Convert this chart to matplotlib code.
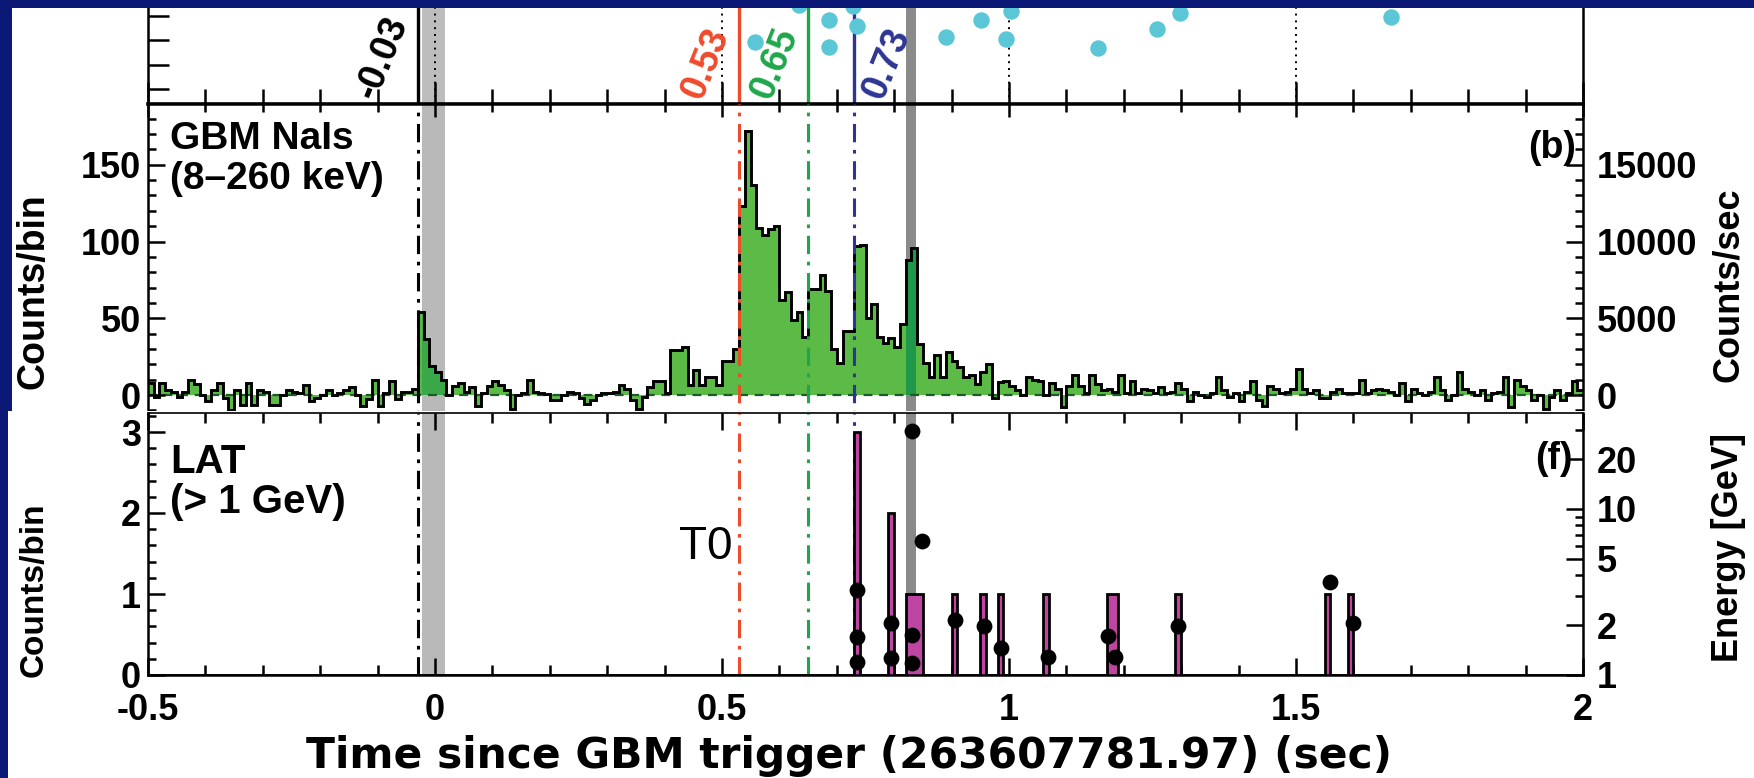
import numpy as np
import matplotlib
matplotlib.use('Agg')
import matplotlib.pyplot as plt
from matplotlib.patches import Rectangle
from matplotlib.ticker import MultipleLocator, FixedLocator, NullFormatter, FuncFormatter

plt.rcParams['font.family'] = ['Liberation Sans', 'DejaVu Sans']
plt.rcParams['font.weight'] = 'bold'

# ------------------------------------------------------------------ data
t_start = -0.5            # first GBM bin edge (s)
bin_width = 0.01          # s
gbm_counts = [
    8, -1.5, 7.5, 3, 2, -1, 2, 10, 7, 0,
    -4, 3, 8, -2, -10, 3, -6.5, 7.5, -6.5, 3,
    2, -6.5, -6.5, 0, 3, 2, 1, 6.5, -4, -2,
    0, 3, 0, 1, 3, 5, 0, -7, -2.5, 10,
    -7, 1, 9, -2.5, 2, 2, 4, 54, 36.5, 19,
    15, 10, 0, 6, 8, 2, 5, -7, 1, 6,
    9, 6.5, 3, -9, 0, 1, 10, 2, 1, 0.5,
    -3, -3, 0, 2, 1, -2, -6, -3, 0, 1.5,
    1.5, 2, 6.5, 4, -3, -9, -1, 5, 9, 9,
    1, 29, 29, 31.5, 6.5, 16, 6.5, 12, 12, 6.5,
    22, 22, 30, 123, 172, 137, 109, 104, 108, 110,
    62, 67, 49, 54, 38, 69, 69, 78, 68, 30,
    21, 42, 42, 97, 98, 50, 59, 38, 34, 37,
    31, 46, 88, 96, 33, 21, 12, 26, 12, 28,
    22, 18, 12, 13, 7, 15, 20, -2, 8.5, 9,
    6, 3, 0, 12, 10, 9, 0, 8, 4, -8,
    6, 13, 6, 1, 13, 7, 3, 4, 2, 13,
    1, 9, 1, 4, 3, 1, 5, 1, 2, 8,
    4, -4, 2, 0, -1, 1, 12, 3, -1, 1,
    -4, 2, 9, -3, -7, 6, 4, 1, 2, 4,
    17, 4, 1, 3, -2, -2, 2, 4, 1, 1,
    1, 10, 1, 3, 4, 3, 2, 0, 8, -4,
    4, 1, 0, 2, 12, 3, -3, 0, 15, 4,
    2, 0, 3, -3, 1, 2, 12, -8, 10, 6,
    3, -3, 0, -9, -1, 3, -3, 1, 9, 3,
]

# LAT (> 1 GeV) histogram: occupied 0.01 s bins (left edge) and counts
lat_bin_left = [0.73, 0.79, 0.82, 0.83, 0.84, 0.90, 0.95, 0.98, 1.06, 1.17, 1.18, 1.29, 1.55, 1.59]
lat_bin_counts = [3, 2, 1, 1, 1, 1, 1, 1, 1, 1, 1, 1, 1, 1]

# individual LAT photons: arrival time (s) and energy (GeV)
photon_time = [0.735, 0.735, 0.735, 0.794, 0.794, 0.831, 0.831, 0.831, 0.848,
               0.906, 0.956, 0.986, 1.068, 1.172, 1.185, 1.294, 1.559, 1.599]
photon_energy = [3.25, 1.69, 1.20, 2.06, 1.27, 29.5, 1.74, 1.18, 6.4,
                 2.14, 1.97, 1.46, 1.28, 1.72, 1.28, 1.97, 3.63, 2.06]

# upper (cropped) panel points
top_time = [0.557, 0.634, 0.687, 0.687, 0.728, 0.736, 0.890, 0.951, 0.994,
            1.003, 1.155, 1.258, 1.298, 1.666]
top_value = [1.93, 3.44, 2.83, 1.73, 3.40, 2.58, 2.13, 2.83, 2.05,
             3.20, 1.69, 2.46, 3.11, 2.95]

# marked times
event_times = [-0.03, 0.53, 0.65, 0.73]
event_labels = ['-0.03', '0.53', '0.65', '0.73']
event_colors = ['black', '#ee4b2b', '#1fa64a', '#2d3594']

band_light = (-0.022, 0.017)
band_dark = (0.821, 0.838)

# ------------------------------------------------------------------ figure
W, H = 1754, 778
fig = plt.figure(figsize=(W / 100, H / 100), dpi=100)
fig.patch.set_facecolor('white')


def rect(x0, y0, x1, y1):
    return [x0 / W, 1 - y1 / H, (x1 - x0) / W, (y1 - y0) / H]


XL, XR = 148, 1583
XLIM = (-0.5, 2.0)
NAVY = '#0b1876'
GREEN = '#5cba46'
MAGENTA = '#bf45a3'
CYAN = '#5bc6d6'
dashdot = (0, (6, 2.5, 1.2, 2.5))
TICK = 26

edges = np.round(t_start + bin_width * np.arange(len(gbm_counts) + 1), 3)
gbm = np.array(gbm_counts, dtype=float)

# ---------------- top (cropped) panel
ax_top = fig.add_axes(rect(XL, 0, XR, 104), zorder=1)
ax_top.set_xlim(*XLIM)
ax_top.set_ylim(-0.6, 3.645)
ax_top.axvspan(*band_light, color='#bdbdbd', lw=0, zorder=0.5)
ax_top.axvspan(*band_dark, color='#8a8a8a', lw=0, zorder=0.5)
for xg in [0, 0.5, 1.0, 1.5]:
    ax_top.axvline(xg, color='black', lw=1.4, ls=(0, (1, 2.5)), zorder=1)
for t, c in zip(event_times, event_colors):
    ax_top.axvline(t, color=c, lw=2.4, zorder=2)
ax_top.scatter(top_time, top_value, s=140, color=CYAN, lw=0, zorder=3)
for t, lab, c in zip(event_times, event_labels, event_colors):
    right = t > 0.7
    ax_top.annotate(lab, xy=(t, 0), xycoords=('data', 'axes fraction'),
                    xytext=(3 if right else -3, 0), textcoords='offset pixels',
                    ha='left' if right else 'right', va='bottom', rotation=68,
                    color=c, fontsize=27, fontweight='bold', zorder=4)
ax_top.spines['top'].set_visible(False)
ax_top.spines['bottom'].set_linewidth(2.6)
for s in ['left', 'right']:
    ax_top.spines[s].set_linewidth(1.8)
ax_top.xaxis.set_major_locator(MultipleLocator(0.5))
ax_top.xaxis.set_minor_locator(MultipleLocator(0.1))
ax_top.yaxis.set_major_locator(MultipleLocator(1))
ax_top.tick_params(axis='x', which='both', direction='in', bottom=True, top=False,
                   labelbottom=False, width=1.8)
ax_top.tick_params(axis='x', which='major', length=16)
ax_top.tick_params(axis='x', which='minor', length=11)
ax_top.tick_params(axis='y', which='both', direction='in', left=True, right=False,
                   labelleft=False, length=15, width=1.8)

# ---------------- GBM panel
ax_gbm = fig.add_axes(rect(XL, 104, XR, 440), zorder=1)
ax_gbm.set_xlim(*XLIM)
g_top = (395 - 104) / 1.535
g_bot = -(440 - 395) / 1.535
ax_gbm.set_ylim(g_bot, g_top)
bl = ax_gbm.axvspan(*band_light, color='#b9b9b9', lw=0, zorder=0.5)
bd = ax_gbm.axvspan(*band_dark, color='#8a8a8a', lw=0, zorder=0.5)
ax_gbm.stairs(gbm, edges, baseline=0, fill=True, color=GREEN, lw=0, zorder=1)
s1 = ax_gbm.stairs(gbm, edges, baseline=0, fill=True, color='#3aa848', lw=0, zorder=1.1)
s1.set_clip_path(bl)
s2 = ax_gbm.stairs(gbm, edges, baseline=0, fill=True, color='#1f984a', lw=0, zorder=1.1)
s2.set_clip_path(bd)
ax_gbm.axhline(0, color='#1d5a2a', lw=1.6, ls=(0, (4, 3)), zorder=1.2)
ax_gbm.stairs(gbm, edges, baseline=None, fill=False, color='black', lw=2.1, zorder=2)
for t, c in zip(event_times, event_colors):
    ax_gbm.axvline(t, color=c, lw=2.2, ls=dashdot, zorder=3)
for s in ['left', 'right', 'top', 'bottom']:
    ax_gbm.spines[s].set_linewidth(1.8)
ax_gbm.xaxis.set_major_locator(MultipleLocator(0.5))
ax_gbm.xaxis.set_minor_locator(MultipleLocator(0.1))
ax_gbm.tick_params(axis='x', which='both', direction='in', top=True, bottom=False,
                   labelbottom=False, width=1.8)
ax_gbm.tick_params(axis='x', which='major', length=9)
ax_gbm.tick_params(axis='x', which='minor', length=6)
ax_gbm.yaxis.set_major_locator(MultipleLocator(50))
ax_gbm.yaxis.set_minor_locator(MultipleLocator(10))
ax_gbm.tick_params(axis='y', which='both', direction='in', left=True, right=False,
                   labelsize=TICK, pad=5, width=1.8)
ax_gbm.tick_params(axis='y', which='major', length=12)
ax_gbm.tick_params(axis='y', which='minor', length=6)

ax_gbm_r = ax_gbm.twinx()
ax_gbm_r.set_zorder(1.5)
ax_gbm_r.set_ylim(g_bot / bin_width, g_top / bin_width)
ax_gbm_r.yaxis.set_major_locator(MultipleLocator(5000))
ax_gbm_r.yaxis.set_minor_locator(MultipleLocator(1000))
ax_gbm_r.tick_params(axis='y', which='both', direction='in', right=True,
                     labelsize=TICK, pad=10, width=1.8)
ax_gbm_r.tick_params(axis='y', which='major', length=12)
ax_gbm_r.tick_params(axis='y', which='minor', length=6)
for s in ax_gbm_r.spines.values():
    s.set_visible(False)

fig.text(XL / W + 0.0125, 1 - 121 / H, 'GBM NaIs\n(8\u2013260 keV)', ha='left', va='top',
         fontsize=28, linespacing=1.13)
fig.text(1576 / W, 1 - 130 / H, '(b)', ha='right', va='top', fontsize=27)
fig.text(34 / W, 1 - 291 / H, 'Counts/bin', rotation=90, ha='center', va='center', fontsize=27)
fig.text(1728 / W, 1 - 285 / H, 'Counts/sec', rotation=90, ha='center', va='center', fontsize=26)

# white sheet of the lower (pasted) panel
fig.add_artist(Rectangle((8 / W, 0), 1, (H - 411) / H, transform=fig.transFigure,
                         facecolor='white', edgecolor='none', zorder=2))

# ---------------- LAT panel
ax_lat = fig.add_axes(rect(XL, 413, XR, 675), zorder=3)
ax_lat.set_xlim(*XLIM)
ax_lat.set_ylim(0, (675 - 413) / 81)
ax_lat.axvspan(*band_light, color='#b9b9b9', lw=0, zorder=0.5)
ax_lat.axvspan(*band_dark, color='#8a8a8a', lw=0, zorder=0.5)
for t, c in zip(event_times, event_colors):
    ax_lat.axvline(t, color=c, lw=2.2, ls=dashdot, zorder=1)
lat_hist = np.zeros(len(gbm_counts))
for left, n in zip(lat_bin_left, lat_bin_counts):
    lat_hist[int(round((left - t_start) / bin_width))] = n
ax_lat.stairs(lat_hist, edges, baseline=0, fill=True, color=MAGENTA, lw=0, zorder=2)
ax_lat.stairs(lat_hist, edges, baseline=0, fill=False, color='black', lw=2.0, zorder=2.1)
for s in ['left', 'right', 'bottom']:
    ax_lat.spines[s].set_linewidth(1.8)
ax_lat.spines['top'].set_linewidth(1.2)
ax_lat.xaxis.set_major_locator(MultipleLocator(0.5))
ax_lat.xaxis.set_minor_locator(MultipleLocator(0.1))
ax_lat.xaxis.set_major_formatter(FuncFormatter(lambda v, p: f'{v:g}'))
ax_lat.tick_params(axis='x', which='both', direction='in', top=True, bottom=True,
                   labelsize=TICK, pad=13, width=1.8)
ax_lat.tick_params(axis='x', which='major', length=12)
ax_lat.tick_params(axis='x', which='minor', length=7)
ax_lat.yaxis.set_major_locator(MultipleLocator(1))
ax_lat.yaxis.set_minor_locator(MultipleLocator(0.2))
ax_lat.tick_params(axis='y', which='both', direction='in', left=True, right=False,
                   labelsize=TICK, pad=5, width=1.8)
ax_lat.tick_params(axis='y', which='major', length=12)
ax_lat.tick_params(axis='y', which='minor', length=6)

ax_lat_r = ax_lat.twinx()
ax_lat_r.set_zorder(3.5)
ax_lat_r.set_yscale('log')
ax_lat_r.set_ylim(1, 10 ** ((675 - 413) / 166))
ax_lat_r.scatter(photon_time, photon_energy, s=130, color='black', lw=0, zorder=5, clip_on=False)
ax_lat_r.yaxis.set_major_locator(FixedLocator([1, 2, 5, 10, 20]))
ax_lat_r.yaxis.set_major_formatter(FuncFormatter(lambda v, p: f'{v:g}'))
ax_lat_r.yaxis.set_minor_locator(FixedLocator([3, 4, 6, 7, 8, 9, 30]))
ax_lat_r.yaxis.set_minor_formatter(NullFormatter())
ax_lat_r.tick_params(axis='y', which='both', direction='in', right=True,
                     labelsize=TICK, pad=10, width=1.8)
ax_lat_r.tick_params(axis='y', which='major', length=12)
ax_lat_r.tick_params(axis='y', which='minor', length=6)
for s in ax_lat_r.spines.values():
    s.set_visible(False)

fig.text(XL / W + 0.0125, 1 - 443 / H, 'LAT\n(> 1 GeV)', ha='left', va='top',
         fontsize=29, linespacing=1.08)
fig.text(1573 / W, 1 - 441 / H, '(f)', ha='right', va='top', fontsize=27)
fig.text(733 / W, 1 - 559 / H, 'T0', ha='right', va='baseline', fontsize=33,
         fontweight='normal')
fig.text(34 / W, 1 - 590 / H, 'Counts/bin', rotation=90, ha='center', va='center', fontsize=24)
fig.text(1728 / W, 1 - 547 / H, 'Energy [GeV]', rotation=90, ha='center', va='center', fontsize=26)
fig.text(849 / W, 1 - 756 / H, 'Time since GBM trigger (263607781.97) (sec)', ha='center',
         va='center', fontsize=30.5, family=['DejaVu Sans'])

# ---------------- navy slide background strips
fig.add_artist(Rectangle((0, 1 - 8 / H), 1, 8 / H, transform=fig.transFigure,
                         facecolor=NAVY, edgecolor='none', zorder=10))
fig.add_artist(Rectangle((0, 1 - 411 / H), 12 / W, 411 / H, transform=fig.transFigure,
                         facecolor=NAVY, edgecolor='none', zorder=10))
fig.add_artist(Rectangle((0, 0), 8 / W, (H - 411) / H, transform=fig.transFigure,
                         facecolor=NAVY, edgecolor='none', zorder=10))

fig.savefig('out.png', dpi=100)
